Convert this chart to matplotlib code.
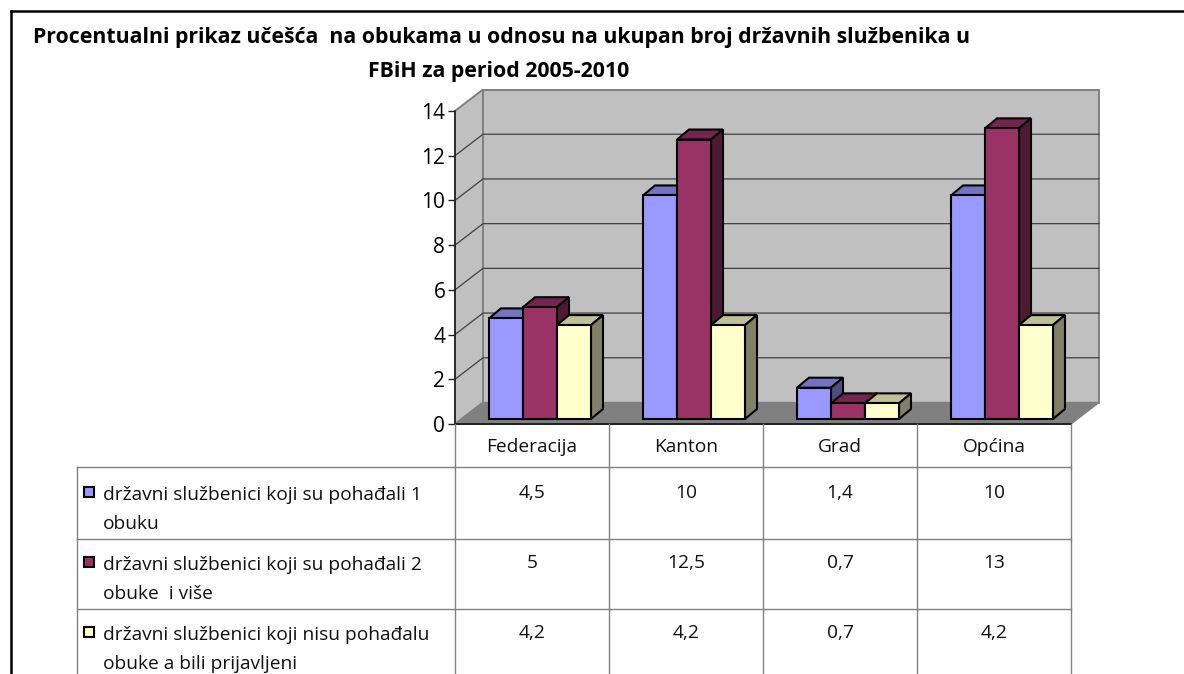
#%% data
import matplotlib
matplotlib.use("Agg")
import matplotlib.pyplot as plt
from matplotlib.patches import Polygon
from matplotlib.lines import Line2D

categories = ["Federacija", "Kanton", "Grad", "Općina"]
series_names = [
    "državni službenici koji su pohađali 1\nobuku",
    "državni službenici koji su pohađali 2\nobuke  i više",
    "državni službenici koji nisu pohađalu\nobuke a bili prijavljeni",
]
one_training = [4.5, 10, 1.4, 10]
two_trainings = [5, 12.5, 0.7, 13]
no_training = [4.2, 4.2, 0.7, 4.2]
series_values = [one_training, two_trainings, no_training]
title_lines = [
    "Procentualni prikaz učešća  na obukama u odnosu na ukupan broj državnih službenika u",
    "FBiH za period 2005-2010",
]
y_ticks = [0, 2, 4, 6, 8, 10, 12, 14]

# front, top, side colours for each series
front_colors = ["#9999FF", "#993366", "#FFFFCC"]
top_colors = ["#7373BF", "#73264D", "#BFBF99"]
side_colors = ["#4D4D80", "#4D1A33", "#808066"]

plt.rcParams["font.family"] = ["Open Sans", "DejaVu Sans"]

W, H = 1184, 674
fig = plt.figure(figsize=(W / 100, H / 100), dpi=100)

# plot box in pixels, y measured from the top of the image
left, right, top, bottom = 455, 1071, 111, 424
ax = fig.add_axes([left / W, 1 - bottom / H, (right - left) / W, (bottom - top) / H])
ax.set_xlim(0, 4)
ax.set_ylim(0, 14)
ax.patch.set_visible(False)

x_unit = (right - left) / 4
y_unit = (bottom - top) / 14

# depth of the walls and the bars, in data units
wall_dx, wall_dy = 28 / x_unit, 21.5 / y_unit
bar_dx, bar_dy = 12 / x_unit, 10 / y_unit
bar_w = 34 / x_unit
bar_start = 34 / x_unit
base = 5 / y_unit


def poly(points, face, edge, lw=1.0, z=1):
    ax.add_patch(Polygon(points, closed=True, facecolor=face, edgecolor=edge,
                         linewidth=lw, clip_on=False, zorder=z, joinstyle="miter"))


#%% walls and floor
poly([(0, 0), (wall_dx, wall_dy), (wall_dx, 14 + wall_dy), (0, 14)], "#C0C0C0", "#808080", 1.4)
poly([(wall_dx, wall_dy), (4 + wall_dx, wall_dy), (4 + wall_dx, 14 + wall_dy), (wall_dx, 14 + wall_dy)],
     "#C0C0C0", "#808080", 1.4)
poly([(0, 0), (4, 0), (4 + wall_dx, wall_dy), (wall_dx, wall_dy)], "#808080", "#808080", 1.0)

for t in y_ticks[1:-1]:
    ax.plot([0, wall_dx, 4 + wall_dx], [t, t + wall_dy, t + wall_dy], color="#404040", lw=0.9,
            clip_on=False, zorder=2)

#%% bars
z = 3
for c in range(len(categories)):
    for s in range(len(series_values)):
        v = series_values[s][c]
        x0 = c + bar_start + s * bar_w
        x1 = x0 + bar_w
        y1 = base + v
        poly([(x0, y1), (x1, y1), (x1 + bar_dx, y1 + bar_dy), (x0 + bar_dx, y1 + bar_dy)],
             top_colors[s], "black", 1.5, z)
        poly([(x1, base), (x1 + bar_dx, base + bar_dy), (x1 + bar_dx, y1 + bar_dy), (x1, y1)],
             side_colors[s], "black", 1.5, z)
        ax.bar(x0, v, width=bar_w, bottom=base, align="edge", color=front_colors[s],
               edgecolor="black", linewidth=1.5, clip_on=False, zorder=z)
        z += 1

#%% axis
for name in ["top", "right", "bottom"]:
    ax.spines[name].set_visible(False)
ax.spines["left"].set_linewidth(1.2)
ax.spines["left"].set_color("#202020")
ax.spines["left"].set_zorder(2)
ax.set_xticks([])
ax.set_yticks(y_ticks)
ax.tick_params(axis="y", length=5, width=1.0, labelsize=15, pad=2, color="#202020", labelcolor="black")
ax.plot([0, 4], [0, 0], color="#202020", lw=1.4, clip_on=False, zorder=2)


#%% table, drawn in pixels
def fx(x):
    return x / W


def fy(y):
    return 1 - y / H


def pix_line(x0, y0, x1, y1, color="#808080", lw=1.0):
    fig.add_artist(Line2D([fx(x0), fx(x1)], [fy(y0), fy(y1)], color=color, lw=lw))


row_lines = [467, 539, 609]
col_lines = [455, 609, 763, 917, 1071]
pix_line(77, 467, 77, 674)
for y in row_lines:
    pix_line(77, y, 1071, y)
pix_line(455, 424, 455, 674)
for x in col_lines[1:]:
    pix_line(x, 424, x, 674)

table_size = 13.8
for i, name in enumerate(categories):
    fig.text(fx((col_lines[i] + col_lines[i + 1]) / 2), fy(452), name, ha="center", va="baseline",
             fontsize=table_size, color="#111111")

row_baselines = [500, 570, 640]
line_gap = 29
for s, name in enumerate(series_names):
    y = row_baselines[s]
    first, second = name.split("\n")
    fig.text(fx(103), fy(y), first, ha="left", va="baseline", fontsize=table_size, color="#111111")
    fig.text(fx(103), fy(y + line_gap), second, ha="left", va="baseline", fontsize=table_size, color="#111111")
    fig.add_artist(plt.Rectangle((fx(84), fy(y - 3)), 10 / W, 10 / H, transform=fig.transFigure,
                                 facecolor=front_colors[s], edgecolor="black", linewidth=1.5))
    for c in range(len(categories)):
        label = f"{series_values[s][c]:g}".replace(".", ",")
        fig.text(fx((col_lines[c] + col_lines[c + 1]) / 2), fy(y - 2), label, ha="center", va="baseline",
                 fontsize=table_size, color="#111111")

#%% title and outer frame
fig.text(fx(33), fy(43), title_lines[0], ha="left", va="baseline", fontsize=15.3, fontweight="bold")
fig.text(fx(368), fy(77), title_lines[1], ha="left", va="baseline", fontsize=15.3, fontweight="bold")

pix_line(11, 674, 11, 11, color="black", lw=1.8)
pix_line(11, 11, 1184, 11, color="black", lw=1.8)

fig.savefig("out.png", dpi=100)
